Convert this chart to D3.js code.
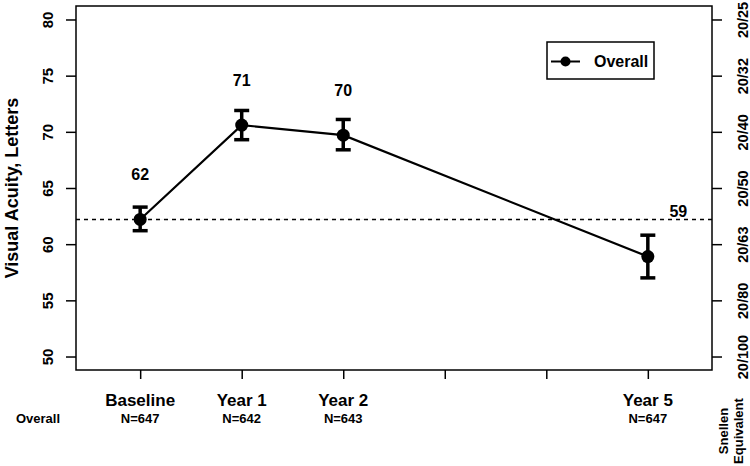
<!DOCTYPE html>
<html>
<head>
<meta charset="utf-8">
<script src="https://cdn.jsdelivr.net/npm/d3@7"></script>
<style>
  body { margin: 0; background: #fff; }
  text { font-family: "Liberation Sans", Arial, sans-serif; font-weight: bold; fill: #000; }
</style>
</head>
<body>
<div id="chart"></div>
<script>
// visits and their position on the x axis
var visits = ["Baseline", "Year 1", "Year 2", "Year 5"]
var visitX = [1, 2, 3, 6]
var nLabels = ["N=647", "N=642", "N=643", "N=647"]
var xTicks = [1, 2, 3, 4, 5, 6]

// mean letters and CI
var means = [62.2, 70.6, 69.7, 58.9]
var lower = [61.2, 69.3, 68.4, 57.0]
var upper = [63.3, 71.9, 71.1, 60.8]
var valueLabels = ["62", "71", "70", "59"]
var baselineRef = 62.2

var yTicks = [50, 55, 60, 65, 70, 75, 80]
var snellen = ["20/100", "20/80", "20/63", "20/50", "20/40", "20/32", "20/25"]

var margin = {top: 6, right: 38, bottom: 96, left: 76},
    width = 750 - margin.left - margin.right,
    height = 466 - margin.top - margin.bottom

var svg = d3.select("#chart").append("svg")
    .attr("width", 750)
    .attr("height", 466)

var g = svg.append("g")
    .attr("transform", "translate(" + margin.left + "," + margin.top + ")")

var x = d3.scaleLinear().domain([0.368, 6.632]).range([0, width])
var y = d3.scaleLinear().domain([48.8, 81.2]).range([height, 0])

// left axis
var yAxis = g.append("g")
    .call(d3.axisLeft(y).tickValues(yTicks).tickSize(10).tickFormat(d3.format("d")))
yAxis.select(".domain").remove()
yAxis.selectAll(".tick line").attr("stroke-width", 1.5)
yAxis.selectAll(".tick text")
    .attr("transform", "rotate(-90)")
    .attr("x", 0).attr("y", -28)
    .attr("dy", "0.35em")
    .style("text-anchor", "middle")
    .style("font-size", "15px")
    .style("font-family", "'Liberation Sans', Arial, sans-serif")
    .style("font-weight", "bold")

// right axis (Snellen)
var yRight = g.append("g")
    .attr("transform", "translate(" + width + ",0)")
    .call(d3.axisRight(y).tickValues(yTicks).tickSize(10).tickFormat(function(d, i) { return snellen[i] }))
yRight.select(".domain").remove()
yRight.selectAll(".tick line").attr("stroke-width", 1.5)
yRight.selectAll(".tick text")
    .attr("transform", "rotate(-90)")
    .attr("x", 0).attr("y", 31)
    .attr("dy", "0.35em")
    .style("text-anchor", "middle")
    .style("font-size", "14.5px")
    .style("font-family", "'Liberation Sans', Arial, sans-serif")
    .style("font-weight", "bold")

// bottom ticks
var xAxis = g.append("g")
    .attr("transform", "translate(0," + height + ")")
    .call(d3.axisBottom(x).tickValues(xTicks).tickSize(9).tickFormat(""))
xAxis.select(".domain").remove()
xAxis.selectAll(".tick line").attr("stroke-width", 1.5)

// frame
g.append("rect")
    .attr("width", width).attr("height", height)
    .attr("fill", "none").attr("stroke", "#000").attr("stroke-width", 1.5)

// baseline reference
g.append("line")
    .attr("x1", 0).attr("x2", width)
    .attr("y1", y(baselineRef)).attr("y2", y(baselineRef))
    .attr("stroke", "#000").attr("stroke-width", 1.5)
    .attr("stroke-dasharray", "4,4")

var data = visits.map(function(v, i) {
  return {visit: v, x: visitX[i], mean: means[i], lo: lower[i], hi: upper[i], label: valueLabels[i], n: nLabels[i]}
})

var line = d3.line()
    .x(function(d) { return x(d.x) })
    .y(function(d) { return y(d.mean) })

g.append("path")
    .datum(data)
    .attr("d", line)
    .attr("fill", "none").attr("stroke", "#000").attr("stroke-width", 2.2)

// error bars
var bars = g.selectAll(".bar").data(data).enter().append("g")
bars.append("line")
    .attr("x1", function(d) { return x(d.x) }).attr("x2", function(d) { return x(d.x) })
    .attr("y1", function(d) { return y(d.lo) }).attr("y2", function(d) { return y(d.hi) })
    .attr("stroke", "#000").attr("stroke-width", 3.5)
bars.selectAll(".cap").data(function(d) { return [[d.x, d.lo], [d.x, d.hi]] }).enter().append("line")
    .attr("x1", function(d) { return x(d[0]) - 7.5 }).attr("x2", function(d) { return x(d[0]) + 7.5 })
    .attr("y1", function(d) { return y(d[1]) }).attr("y2", function(d) { return y(d[1]) })
    .attr("stroke", "#000").attr("stroke-width", 3.5)
bars.append("circle")
    .attr("cx", function(d) { return x(d.x) })
    .attr("cy", function(d) { return y(d.mean) })
    .attr("r", 6.5)

// value labels, the last one sits beside the reference line
g.selectAll(".val").data(data).enter().append("text")
    .attr("x", function(d, i) { return i == data.length - 1 ? x(d.x + 0.3) : x(d.x) })
    .attr("y", function(d, i) { return i == data.length - 1 ? y(baselineRef + 0.75) : y(d.mean + 4) })
    .attr("dy", "0.35em")
    .style("text-anchor", "middle")
    .style("font-size", "16px")
    .text(function(d) { return d.label })

// x labels
g.selectAll(".xl").data(data).enter().append("text")
    .attr("x", function(d) { return x(d.x) })
    .attr("y", height + 30)
    .attr("dy", "0.35em")
    .style("text-anchor", "middle")
    .style("font-size", "17px")
    .text(function(d) { return d.visit })
g.selectAll(".nl").data(data).enter().append("text")
    .attr("x", function(d) { return x(d.x) })
    .attr("y", height + 48)
    .attr("dy", "0.35em")
    .style("text-anchor", "middle")
    .style("font-size", "13px")
    .text(function(d) { return d.n })

svg.append("text")
    .attr("x", 38).attr("y", margin.top + height + 48)
    .attr("dy", "0.35em")
    .style("text-anchor", "middle")
    .style("font-size", "13px")
    .text("Overall")

// axis titles
svg.append("text")
    .attr("transform", "rotate(-90)")
    .attr("x", -(margin.top + height / 2))
    .attr("y", 12)
    .attr("dy", "0.35em")
    .style("text-anchor", "middle")
    .style("font-size", "18px")
    .text("Visual Acuity, Letters")

var snl = svg.append("text")
    .attr("transform", "translate(723,431) rotate(-90)")
    .style("text-anchor", "middle")
    .style("font-size", "13px")
snl.append("tspan").attr("x", 0).attr("dy", "0.35em").text("Snellen")
snl.append("tspan").attr("x", 0).attr("dy", "1.15em").text("Equivalent")

// legend
var leg = svg.append("g").attr("transform", "translate(547,42)")
leg.append("rect").attr("width", 107).attr("height", 37)
    .attr("fill", "#fff").attr("stroke", "#000").attr("stroke-width", 1.5)
leg.append("line").attr("x1", 4).attr("x2", 33).attr("y1", 19.5).attr("y2", 19.5)
    .attr("stroke", "#000").attr("stroke-width", 2)
leg.append("circle").attr("cx", 18.5).attr("cy", 19.5).attr("r", 5)
leg.append("text").attr("x", 47).attr("y", 19.5).attr("dy", "0.35em")
    .style("font-size", "16px").text("Overall")
</script>
</body>
</html>
